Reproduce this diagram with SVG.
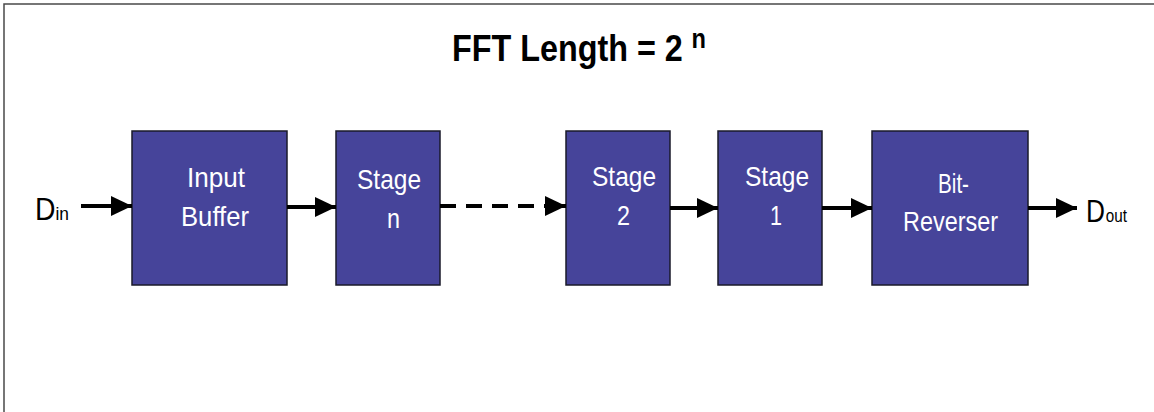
<svg xmlns="http://www.w3.org/2000/svg" width="1154" height="412" viewBox="0 0 1154 412">
  <style>
    .frame { stroke: #4a4a4a; stroke-width: 1.5; fill: none; }
    .box { fill: #46449a; stroke: #1a1a2a; stroke-width: 1.5; }
    .lbl { font-family: "Liberation Sans", Arial, sans-serif; font-size: 28px; fill: #ffffff; }
    .title { font-family: "Liberation Sans", Arial, sans-serif; font-weight: bold; fill: #000000; }
    .io { font-family: "Liberation Sans", Arial, sans-serif; fill: #000000; }
    .conn { stroke: #000000; stroke-width: 4; fill: none; }
    .dash { stroke-dasharray: 16 10; }
  </style>
  <defs>
    <marker id="arrow" markerUnits="userSpaceOnUse" markerWidth="21" markerHeight="20" refX="21" refY="10" orient="auto">
      <path d="M0,0 L21,10 L0,20 Z" fill="#000000"/>
    </marker>
  </defs>
  <rect width="1154" height="412" fill="#ffffff"/>
  <path class="frame" d="M4,412 L4,4 L1154,4"/>

  <g id="title">
    <text class="title" x="452" y="61" font-size="37" textLength="254" lengthAdjust="spacingAndGlyphs">FFT Length = 2<tspan dx="10" dy="-13" font-size="27">n</tspan></text>
  </g>

  <g id="din">
    <text class="io" x="35" y="220" font-size="31" textLength="34" lengthAdjust="spacingAndGlyphs">D<tspan font-size="19">in</tspan></text>
  </g>
  <g id="dout">
    <text class="io" x="1086" y="222" font-size="31" textLength="41" lengthAdjust="spacingAndGlyphs">D<tspan dx="1" font-size="18">out</tspan></text>
  </g>

  <g id="input-buffer">
    <rect class="box" x="132" y="131" width="155" height="154"/>
    <text class="lbl" x="187" y="187" textLength="58" lengthAdjust="spacingAndGlyphs">Input</text>
    <text class="lbl" x="181" y="226" textLength="68" lengthAdjust="spacingAndGlyphs">Buffer</text>
  </g>
  <g id="stage-n">
    <rect class="box" x="336" y="131" width="104" height="154"/>
    <text class="lbl" x="357" y="189" textLength="64" lengthAdjust="spacingAndGlyphs">Stage</text>
    <text class="lbl" x="387" y="228" textLength="13" lengthAdjust="spacingAndGlyphs">n</text>
  </g>
  <g id="stage-2">
    <rect class="box" x="566" y="131" width="104" height="154"/>
    <text class="lbl" x="592" y="186" textLength="64" lengthAdjust="spacingAndGlyphs">Stage</text>
    <text class="lbl" x="617" y="225" textLength="13" lengthAdjust="spacingAndGlyphs">2</text>
  </g>
  <g id="stage-1">
    <rect class="box" x="718" y="131" width="104" height="154"/>
    <text class="lbl" x="745" y="186" textLength="64" lengthAdjust="spacingAndGlyphs">Stage</text>
    <text class="lbl" x="770" y="225" textLength="12" lengthAdjust="spacingAndGlyphs">1</text>
  </g>
  <g id="bit-reverser">
    <rect class="box" x="872" y="131" width="156" height="154"/>
    <text class="lbl" x="938" y="193" textLength="31" lengthAdjust="spacingAndGlyphs">Bit-</text>
    <text class="lbl" x="903" y="231" textLength="95" lengthAdjust="spacingAndGlyphs">Reverser</text>
  </g>

  <g id="connectors">
    <line class="conn" x1="81" y1="206" x2="132" y2="206" marker-end="url(#arrow)"/>
    <line class="conn" x1="287" y1="207" x2="336" y2="207" marker-end="url(#arrow)"/>
    <line class="conn dash" x1="440" y1="206" x2="548" y2="206"/>
    <line class="conn" x1="546" y1="206" x2="566" y2="206" marker-end="url(#arrow)"/>
    <line class="conn" x1="670" y1="208" x2="718" y2="208" marker-end="url(#arrow)"/>
    <line class="conn" x1="822" y1="208" x2="872" y2="208" marker-end="url(#arrow)"/>
    <line class="conn" x1="1028" y1="208" x2="1077" y2="208" marker-end="url(#arrow)"/>
  </g>
</svg>
